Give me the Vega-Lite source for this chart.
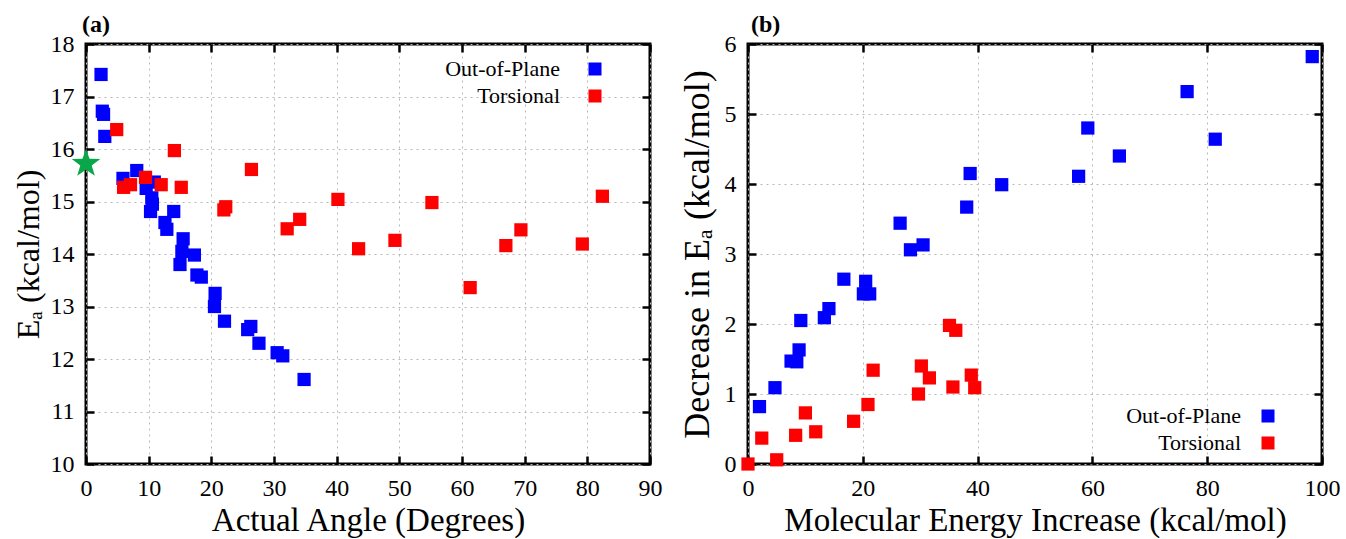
{
  "$schema": "https://vega.github.io/schema/vega-lite/v6.json",
  "padding": {"left": 10, "top": 11, "right": 2, "bottom": 0},
  "background": "white",
  "config": {
    "font": "Liberation Serif",
    "view": {"stroke": "black", "strokeWidth": 3},
    "axis": {
      "labelFont": "Liberation Serif", "labelFontSize": 24, "labelColor": "black", "labelFlush": false,
      "titleFont": "Liberation Serif", "titleFontSize": 32, "titleFontWeight": "normal", "titleColor": "black",
      "domain": false, "ticks": true, "tickColor": "black", "tickWidth": 2.5, "tickSize": -8, "labelPadding": 20,
      "gridColor": "#b8b8b8", "gridDash": [2, 4], "gridWidth": 1
    },
    "legend": {
      "labelFont": "Liberation Serif", "labelFontSize": 22, "labelColor": "black",
      "symbolType": "square", "symbolSize": 169, "symbolStrokeWidth": 0, "symbolOpacity": 1,
      "labelAlign": "right", "rowPadding": 5,
      "titleOrient": "right", "titleFontSize": 22
    }
  },
  "datasets": {
    "a": [
      {"series": "Out-of-Plane", "angle": 2.4, "ea": 17.42},
      {"series": "Out-of-Plane", "angle": 2.6, "ea": 16.72},
      {"series": "Out-of-Plane", "angle": 2.8, "ea": 16.66},
      {"series": "Out-of-Plane", "angle": 3.0, "ea": 16.24},
      {"series": "Out-of-Plane", "angle": 5.9, "ea": 15.44},
      {"series": "Out-of-Plane", "angle": 8.1, "ea": 15.59},
      {"series": "Out-of-Plane", "angle": 9.6, "ea": 15.25},
      {"series": "Out-of-Plane", "angle": 10.9, "ea": 15.37},
      {"series": "Out-of-Plane", "angle": 10.5, "ea": 15.07},
      {"series": "Out-of-Plane", "angle": 10.6, "ea": 14.95},
      {"series": "Out-of-Plane", "angle": 10.3, "ea": 14.81},
      {"series": "Out-of-Plane", "angle": 14.0, "ea": 14.81},
      {"series": "Out-of-Plane", "angle": 12.6, "ea": 14.6},
      {"series": "Out-of-Plane", "angle": 12.9, "ea": 14.47},
      {"series": "Out-of-Plane", "angle": 15.5, "ea": 14.29},
      {"series": "Out-of-Plane", "angle": 15.3, "ea": 14.05},
      {"series": "Out-of-Plane", "angle": 15.0, "ea": 13.8},
      {"series": "Out-of-Plane", "angle": 17.3, "ea": 13.98},
      {"series": "Out-of-Plane", "angle": 17.7, "ea": 13.6},
      {"series": "Out-of-Plane", "angle": 18.4, "ea": 13.56},
      {"series": "Out-of-Plane", "angle": 20.6, "ea": 13.25},
      {"series": "Out-of-Plane", "angle": 20.5, "ea": 13.0},
      {"series": "Out-of-Plane", "angle": 22.1, "ea": 12.72},
      {"series": "Out-of-Plane", "angle": 25.8, "ea": 12.56},
      {"series": "Out-of-Plane", "angle": 26.3, "ea": 12.62},
      {"series": "Out-of-Plane", "angle": 27.6, "ea": 12.3},
      {"series": "Out-of-Plane", "angle": 30.5, "ea": 12.12},
      {"series": "Out-of-Plane", "angle": 31.4, "ea": 12.06},
      {"series": "Out-of-Plane", "angle": 34.8, "ea": 11.61},
      {"series": "Torsional", "angle": 4.9, "ea": 16.37},
      {"series": "Torsional", "angle": 14.1, "ea": 15.97},
      {"series": "Torsional", "angle": 6.0, "ea": 15.27},
      {"series": "Torsional", "angle": 7.1, "ea": 15.32},
      {"series": "Torsional", "angle": 9.5, "ea": 15.46},
      {"series": "Torsional", "angle": 12.0, "ea": 15.32},
      {"series": "Torsional", "angle": 15.2, "ea": 15.27},
      {"series": "Torsional", "angle": 26.4, "ea": 15.61},
      {"series": "Torsional", "angle": 22.0, "ea": 14.84},
      {"series": "Torsional", "angle": 22.3, "ea": 14.9},
      {"series": "Torsional", "angle": 32.1, "ea": 14.48},
      {"series": "Torsional", "angle": 34.1, "ea": 14.66},
      {"series": "Torsional", "angle": 40.2, "ea": 15.04},
      {"series": "Torsional", "angle": 43.5, "ea": 14.1},
      {"series": "Torsional", "angle": 49.3, "ea": 14.26},
      {"series": "Torsional", "angle": 55.2, "ea": 14.98},
      {"series": "Torsional", "angle": 61.3, "ea": 13.36},
      {"series": "Torsional", "angle": 67.0, "ea": 14.16},
      {"series": "Torsional", "angle": 69.4, "ea": 14.46},
      {"series": "Torsional", "angle": 79.2, "ea": 14.19},
      {"series": "Torsional", "angle": 82.4, "ea": 15.1}
    ],
    "star": [{"angle": 0, "ea": 15.72}],
    "b": [
      {"series": "Out-of-Plane", "energy": 98.3, "decrease": 5.82},
      {"series": "Out-of-Plane", "energy": 76.5, "decrease": 5.32},
      {"series": "Out-of-Plane", "energy": 59.2, "decrease": 4.8},
      {"series": "Out-of-Plane", "energy": 81.4, "decrease": 4.64},
      {"series": "Out-of-Plane", "energy": 64.7, "decrease": 4.4},
      {"series": "Out-of-Plane", "energy": 57.6, "decrease": 4.11},
      {"series": "Out-of-Plane", "energy": 38.7, "decrease": 4.15},
      {"series": "Out-of-Plane", "energy": 44.2, "decrease": 3.99},
      {"series": "Out-of-Plane", "energy": 38.1, "decrease": 3.67},
      {"series": "Out-of-Plane", "energy": 26.5, "decrease": 3.44},
      {"series": "Out-of-Plane", "energy": 28.3, "decrease": 3.06},
      {"series": "Out-of-Plane", "energy": 30.5, "decrease": 3.13},
      {"series": "Out-of-Plane", "energy": 16.7, "decrease": 2.64},
      {"series": "Out-of-Plane", "energy": 20.5, "decrease": 2.61},
      {"series": "Out-of-Plane", "energy": 20.1, "decrease": 2.43},
      {"series": "Out-of-Plane", "energy": 21.2, "decrease": 2.43},
      {"series": "Out-of-Plane", "energy": 14.1, "decrease": 2.22},
      {"series": "Out-of-Plane", "energy": 13.3, "decrease": 2.09},
      {"series": "Out-of-Plane", "energy": 9.2, "decrease": 2.05},
      {"series": "Out-of-Plane", "energy": 8.9, "decrease": 1.63},
      {"series": "Out-of-Plane", "energy": 8.5, "decrease": 1.46},
      {"series": "Out-of-Plane", "energy": 7.5, "decrease": 1.47},
      {"series": "Out-of-Plane", "energy": 4.7, "decrease": 1.09},
      {"series": "Out-of-Plane", "energy": 2.0, "decrease": 0.82},
      {"series": "Torsional", "energy": 0.0, "decrease": 0.0},
      {"series": "Torsional", "energy": 2.4, "decrease": 0.37},
      {"series": "Torsional", "energy": 5.0, "decrease": 0.06},
      {"series": "Torsional", "energy": 8.3, "decrease": 0.41},
      {"series": "Torsional", "energy": 10.0, "decrease": 0.73},
      {"series": "Torsional", "energy": 11.8, "decrease": 0.46},
      {"series": "Torsional", "energy": 18.4, "decrease": 0.61},
      {"series": "Torsional", "energy": 20.9, "decrease": 0.85},
      {"series": "Torsional", "energy": 21.8, "decrease": 1.34},
      {"series": "Torsional", "energy": 29.7, "decrease": 1.0},
      {"series": "Torsional", "energy": 30.2, "decrease": 1.4},
      {"series": "Torsional", "energy": 31.6, "decrease": 1.23},
      {"series": "Torsional", "energy": 35.1, "decrease": 1.98},
      {"series": "Torsional", "energy": 36.2, "decrease": 1.91},
      {"series": "Torsional", "energy": 35.7, "decrease": 1.1},
      {"series": "Torsional", "energy": 38.9, "decrease": 1.27},
      {"series": "Torsional", "energy": 39.5, "decrease": 1.09}
    ]
  },
  "spacing": 13,
  "resolve": {"scale": {"x": "independent", "y": "independent", "color": "independent"}},
  "hconcat": [
    {
      "width": 564, "height": 420,
      "title": {"text": "(a)", "offset": -5, "dx": -4, "anchor": "start", "frame": "group", "fontWeight": "bold", "fontSize": 24, "font": "Liberation Serif", "color": "black"},
      "resolve": {"axis": {"x": "independent", "y": "independent"}},
      "layer": [
        {
          "data": {"name": "a"},
          "mark": {"type": "square", "size": 175, "opacity": 1},
          "encoding": {
            "x": {"field": "angle", "type": "quantitative", "scale": {"domain": [0, 90], "nice": false},
                  "axis": {"title": "Actual Angle (Degrees)", "values": [0,10,20,30,40,50,60,70,80,90], "orient": "bottom",
                           "labelFont": "Liberation Serif", "labelFontSize": 24, "labelFlush": false, "titleFont": "Liberation Serif", "titleFontSize": 33,
                           "tickSize": -8, "ticks": true, "labelPadding": 20, "titlePadding": 4}},
            "y": {"field": "ea", "type": "quantitative", "scale": {"domain": [10, 18], "nice": false, "zero": false},
                  "axis": {"title": "Eₐ (kcal/mol)", "values": [10,11,12,13,14,15,16,17,18], "orient": "left",
                           "labelFont": "Liberation Serif", "labelFontSize": 24, "labelFlush": false, "titleFont": "Liberation Serif", "titleFontSize": 32,
                           "tickSize": -8, "ticks": true, "labelPadding": 20, "titlePadding": 5}},
            "color": {"field": "series", "type": "nominal",
                      "scale": {"domain": ["Out-of-Plane", "Torsional"], "range": ["#0000ff", "#ff0000"]},
                      "legend": {"title": " ", "titlePadding": 34, "labelOffset": -46, "orient": "top-right", "offset": 14}}
          }
        },
        {
          "data": {"name": "star"},
          "mark": {"type": "point", "shape": "M0,-1L0.235,-0.324L0.951,-0.309L0.38,0.124L0.588,0.809L0,0.4L-0.588,0.809L-0.38,0.124L-0.951,-0.309L-0.235,-0.324Z", "filled": true, "size": 900, "color": "#0aa64a", "opacity": 1},
          "encoding": {
            "x": {"field": "angle", "type": "quantitative",
                  "axis": {"orient": "top", "labels": false, "title": null, "grid": false, "ticks": true, "tickSize": -8, "values": [0,10,20,30,40,50,60,70,80,90]}},
            "y": {"field": "ea", "type": "quantitative",
                  "axis": {"orient": "right", "labels": false, "title": null, "grid": false, "ticks": true, "tickSize": -8, "values": [10,11,12,13,14,15,16,17,18]}}
          }
        }
      ]
    },
    {
      "width": 574, "height": 420,
      "title": {"text": "(b)", "offset": -5, "dx": 3, "anchor": "start", "frame": "group", "fontWeight": "bold", "fontSize": 24, "font": "Liberation Serif", "color": "black"},
      "resolve": {"axis": {"x": "independent", "y": "independent"}},
      "layer": [
        {
          "data": {"name": "b"},
          "mark": {"type": "square", "size": 175, "opacity": 1},
          "encoding": {
            "x": {"field": "energy", "type": "quantitative", "scale": {"domain": [0, 100], "nice": false},
                  "axis": {"title": "Molecular Energy Increase (kcal/mol)", "values": [0,20,40,60,80,100], "orient": "bottom",
                           "labelFont": "Liberation Serif", "labelFontSize": 24, "labelFlush": false, "titleFont": "Liberation Serif", "titleFontSize": 33,
                           "tickSize": -8, "ticks": true, "labelPadding": 20, "titlePadding": 4}},
            "y": {"field": "decrease", "type": "quantitative", "scale": {"domain": [0, 6], "nice": false},
                  "axis": {"title": "Decrease in Eₐ (kcal/mol)", "values": [0,1,2,3,4,5,6], "orient": "left",
                           "labelFont": "Liberation Serif", "labelFontSize": 24, "labelFlush": false, "titleFont": "Liberation Serif", "titleFontSize": 36,
                           "tickSize": -8, "ticks": true, "labelPadding": 20, "titlePadding": 8}},
            "color": {"field": "series", "type": "nominal",
                      "scale": {"domain": ["Out-of-Plane", "Torsional"], "range": ["#0000ff", "#ff0000"]},
                      "legend": {"title": " ", "titlePadding": 37, "labelOffset": -38, "orient": "bottom-right", "offset": 10}}
          }
        },
        {
          "data": {"name": "b"},
          "mark": {"type": "square", "size": 175, "opacity": 0},
          "encoding": {
            "x": {"field": "energy", "type": "quantitative",
                  "axis": {"orient": "top", "labels": false, "title": null, "grid": false, "ticks": true, "tickSize": -8, "values": [0,20,40,60,80,100]}},
            "y": {"field": "decrease", "type": "quantitative",
                  "axis": {"orient": "right", "labels": false, "title": null, "grid": false, "ticks": true, "tickSize": -8, "values": [0,1,2,3,4,5,6]}}
          }
        }
      ]
    }
  ]
}
